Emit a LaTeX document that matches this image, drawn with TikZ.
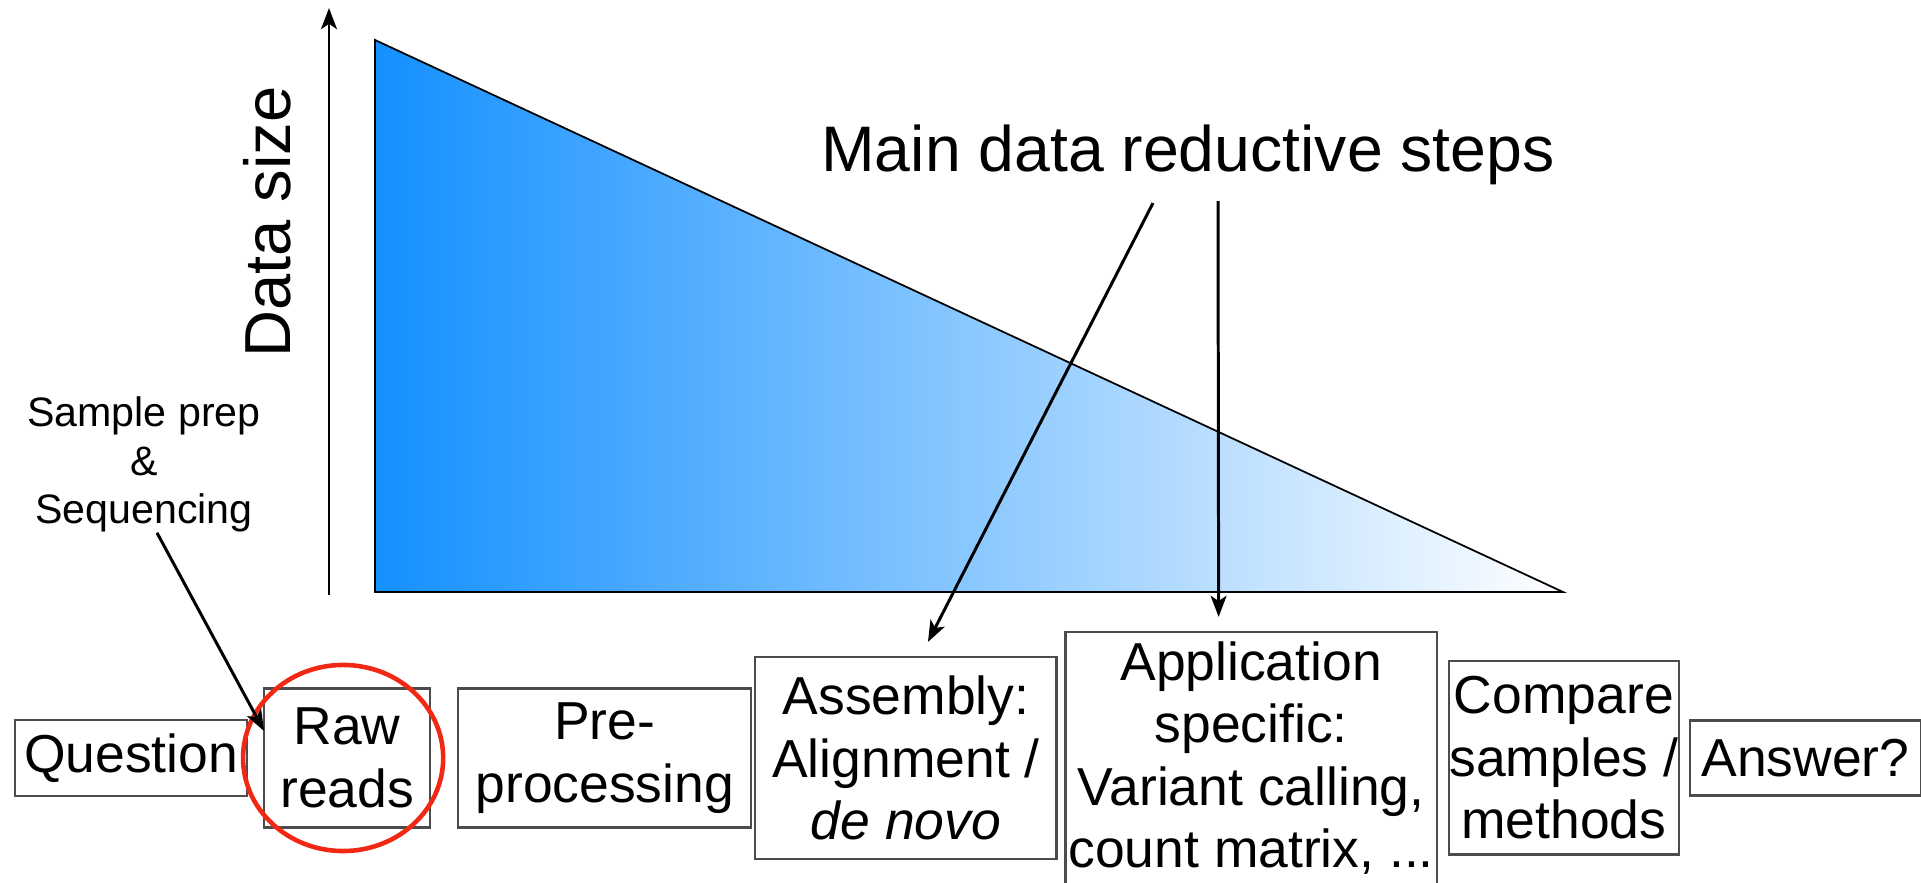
\documentclass[tikz,border=0pt]{standalone}
\usepackage{fontspec}
\setmainfont{Liberation Sans}
\usepackage{tikz}
\usetikzlibrary{arrows.meta}
\usetikzlibrary{positioning}

\definecolor{deepblue}{RGB}{20,144,255}
\definecolor{paleblue}{RGB}{185,202,255}
\definecolor{ringred}{RGB}{240,40,20}

\begin{document}
\begin{tikzpicture}[x=0.01cm,y=-0.01cm,>={Stealth[length=6pt,width=4.5pt,inset=1.5pt]},
                    stage/.style={draw=black!70,line width=0.6pt,inner sep=0pt,outer sep=0pt,align=center,font=\fontsize{15.2}{17.8}\selectfont},
                    pointer/.style={->,line width=0.85pt}]

  \useasboundingbox (0,0) rectangle (1921,883);

  \shade[left color=deepblue,middle color=paleblue,right color=white] (375,40) -- (375,592) -- (1563,592) -- cycle;
  \draw[line width=0.5pt] (375,40) -- (375,592) -- (1563,592) -- cycle;

  \coordinate (foot) at (329,595);
  \coordinate (top) at (329,8);
  \draw[pointer] (foot) -- (top);

  \node[rotate=90,inner sep=0pt,font=\fontsize{18.5}{22}\selectfont] (size) at (267,222) {Data size};
  \node[anchor=base,inner sep=0pt,font=\fontsize{18.3}{22}\selectfont] (title) at (1188,172) {Main data reductive steps};
  \node[anchor=north,align=center,inner sep=0pt,font=\fontsize{11.7}{13.8}\selectfont] (sample) at (144,396) {Sample prep\\\&\\Sequencing};

  \node[stage,minimum width=2.32cm,minimum height=0.76cm] (question) at (131,758) {Question};
  \node[stage,minimum width=1.66cm,minimum height=1.39cm,right=0.17cm of question] (raw) {Raw\\reads};
  \node[stage,minimum width=2.93cm,minimum height=1.39cm,right=0.28cm of raw] (pre) {Pre-\\processing};
  \node[stage,minimum width=3.01cm,minimum height=2.02cm,right=0.04cm of pre] (assembly) {Assembly:\\Alignment /\\\textit{de novo}};
  \node[stage,minimum width=3.71cm,minimum height=2.52cm,right=0.09cm of assembly] (application) {Application\\specific:\\Variant calling,\\count matrix, ...};
  \node[stage,minimum width=2.30cm,minimum height=1.93cm,right=0.12cm of application] (compare) {Compare\\samples /\\methods};
  \node[stage,minimum width=2.31cm,minimum height=0.75cm,right=0.11cm of compare] (answer) {Answer?};

  \draw[ringred,line width=1.3pt] ([xshift=-0.04cm]raw.center) ellipse (1cm and 0.93cm);

  \draw[pointer] ([xshift=0.13cm]sample.south) -- (raw.162);
  \draw[pointer] ([xshift=-0.35cm,yshift=-0.17cm]title.south) -- ([xshift=0.22cm,yshift=0.15cm]assembly.north);
  \draw[pointer] ([xshift=0.30cm,yshift=-0.15cm]title.south) -- ([xshift=-0.325cm,yshift=0.15cm]application.north);
\end{tikzpicture}
\end{document}
